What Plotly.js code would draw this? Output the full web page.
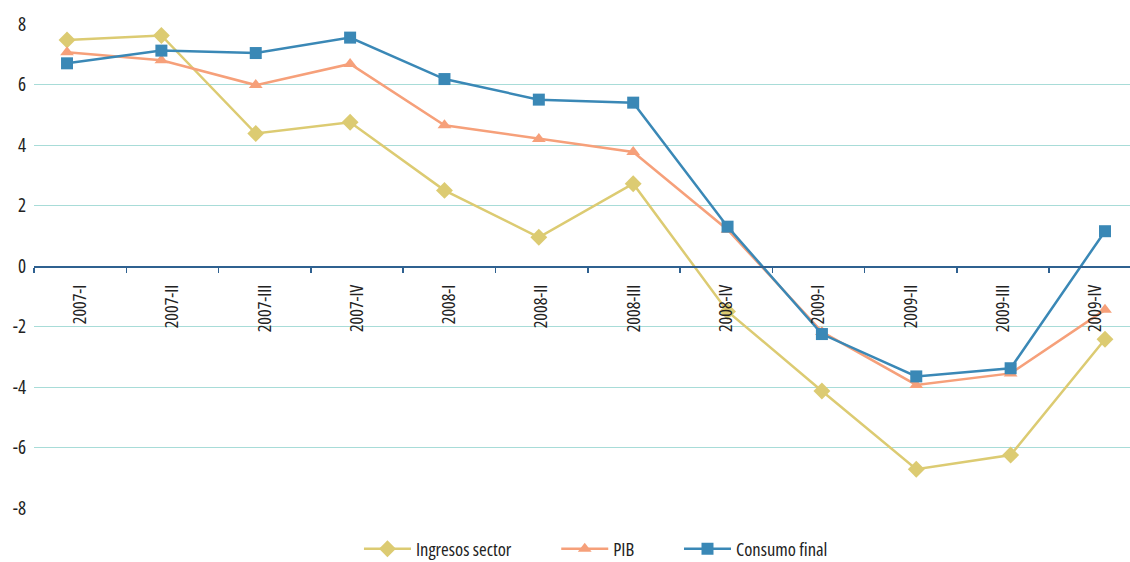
<!DOCTYPE html>
<html>
<head>
<meta charset="utf-8">
<script src="https://cdn.plot.ly/plotly-3.0.1.min.js"></script>
<style>
html,body{margin:0;padding:0;background:#fff;}
#chart{width:1130px;height:562px;}
#chart text{font-stretch:75% !important;}
</style>
</head>
<body>
<div id="chart"></div>
<script>
const categories = ["2007-I","2007-II","2007-III","2007-IV","2008-I","2008-II","2008-III","2008-IV","2009-I","2009-II","2009-III","2009-IV"];
const ingresosSector = [7.47, 7.62, 4.38, 4.75, 2.5, 0.95, 2.72, -1.5, -4.13, -6.72, -6.25, -2.42];
const pib = [7.07, 6.8, 5.98, 6.68, 4.65, 4.2, 3.77, 1.2, -2.18, -3.93, -3.55, -1.45];
const consumoFinal = [6.7, 7.12, 7.04, 7.55, 6.18, 5.5, 5.4, 1.3, -2.25, -3.65, -3.38, 1.15];
const yTicks = [-8, -6, -4, -2, 0, 2, 4, 6, 8];

const FONT = '"Open Sans", "Roboto Condensed", sans-serif';
const xIdx = categories.map((c, i) => i);
const AXC = '#2f6190';

const traces = [
  {name: 'Ingresos sector', x: xIdx, y: ingresosSector, type: 'scatter', mode: 'lines+markers', legend: 'legend',
   line: {color: '#dccb72', width: 2.5}, marker: {symbol: 'diamond', size: 13, color: '#dccb72'}},
  {name: 'PIB', x: xIdx, y: pib, type: 'scatter', mode: 'lines+markers', legend: 'legend2',
   line: {color: '#f6a07a', width: 2.5}, marker: {symbol: 'triangle-up', size: 12, color: '#f6a07a'}},
  {name: 'Consumo final', x: xIdx, y: consumoFinal, type: 'scatter', mode: 'lines+markers', legend: 'legend3',
   line: {color: '#3a88b6', width: 2.5}, marker: {symbol: 'square', size: 12, color: '#3a88b6'}},
  {name: 'axis', x: categories, y: categories.map(() => null), xaxis: 'x2', type: 'scatter', mode: 'lines',
   showlegend: false, hoverinfo: 'skip'}
];

const legFont = {family: FONT, size: 18.5, color: '#222'};
const legBase = {orientation: 'h', xanchor: 'left', yanchor: 'top', y: -0.046, font: legFont,
                 itemwidth: 47, bgcolor: 'rgba(0,0,0,0)'};

const layout = {
  width: 1130, height: 562,
  margin: {l: 34, r: 0, t: 24, b: 54, autoexpand: false},
  paper_bgcolor: '#ffffff', plot_bgcolor: '#ffffff',
  font: {family: FONT, size: 18, color: '#222'},
  showlegend: true,
  legend: Object.assign({}, legBase, {x: 0.2965}),
  legend2: Object.assign({}, legBase, {x: 0.4765}),
  legend3: Object.assign({}, legBase, {x: 0.5885}),
  xaxis: {
    type: 'linear', range: [-0.35, 11.265], visible: false, showgrid: false, zeroline: false
  },
  xaxis2: {
    type: 'category', categoryorder: 'array', categoryarray: categories,
    range: [-0.5, 11.375], overlaying: 'x',
    anchor: 'free', position: 0.5, side: 'bottom',
    showline: true, linecolor: AXC, linewidth: 1.5,
    ticks: 'outside', tickson: 'boundaries', ticklen: 5, tickcolor: AXC, tickwidth: 1.5,
    showgrid: false, zeroline: false, ticklabelstandoff: 10,
    tickangle: -90, tickfont: {family: FONT, size: 18, color: '#222'}
  },
  yaxis: {
    range: [-8, 8], tickmode: 'array', tickvals: yTicks, ticktext: yTicks.map(String),
    showgrid: true, gridcolor: '#a8dcd8', gridwidth: 1, zeroline: false, showline: false,
    ticks: '', ticklabelstandoff: 7, tickfont: {family: FONT, size: 19, color: '#222'}
  }
};

Plotly.newPlot('chart', traces, layout, {displayModeBar: false, staticPlot: true});
</script>
</body>
</html>
